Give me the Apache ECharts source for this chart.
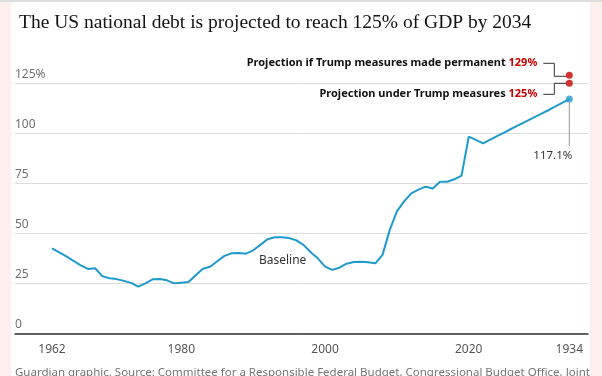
<!DOCTYPE html>
<html>
<head>
<meta charset="utf-8">
<script src="https://cdn.jsdelivr.net/npm/echarts@6/dist/echarts.min.js"></script>
<style>
  html, body { margin: 0; padding: 0; background: #fcefee; }
  #frame { position: absolute; left: 11px; top: 2px; width: 579px; height: 374px; background: #ffffff; }
  #topbar { position: absolute; left: 0; top: 0; width: 602px; height: 2px; background: #dedede; }
  #main { position: absolute; left: 0; top: 0; width: 602px; height: 376px; }
</style>
</head>
<body>
<div id="topbar"></div>
<div id="frame"></div>
<div id="main"></div>
<script>
// debt held by the public, % of GDP (baseline + CBO projection)
var years = [1962,1963,1964,1965,1966,1967,1968,1969,1970,1971,1972,1973,1974,1975,1976,1977,1978,1979,
    1980,1981,1982,1983,1984,1985,1986,1987,1988,1989,1990,1991,1992,1993,1994,1995,1996,1997,1998,1999,
    2000,2001,2002,2003,2004,2005,2006,2007,2008,2009,2010,2011,2012,2013,2014,2015,2016,2017,2018,2019,
    2020,2021,2022,2023,2024,2025,2026,2027,2028,2029,2030,2031,2032,2033,2034];
var debt = [42.5,40.5,38.5,36.2,34,32.2,32.5,28.6,27.5,27.1,26.2,25.2,23.3,25,27,27.2,26.5,25,
    25.3,25.6,29,32.3,33.3,36,38.7,40,40.2,39.8,41.5,44.2,47,48,48,47.6,46.5,44.2,40.5,37.5,
    33.3,31.7,32.8,34.8,35.6,35.8,35.5,35,39.2,51.6,61,66,70,71.8,73.3,72.4,75.8,75.8,77,78.8,
    98.3,96.7,95,96.8,98.7,100.5,102.4,104.2,106,107.8,109.6,111.4,113.3,115.2,117.1];

// end-of-period projections for 2034
var endYear = 2034;
var baselineEnd = 117.1;
var trumpMeasures = 125;
var trumpPermanent = 129;

var xTickYears = [1962, 1980, 2000, 2020, 2034];
var xTickLabels = ['1962', '1980', '2000', '2020', '1934'];
var yTicks = [0, 25, 50, 75, 100, 125];

var lineBlue = '#1f9acd';
var red = '#c70000';
var ink = '#121212';

var chart = echarts.init(document.getElementById('main'));

var seriesData = [];
for (var i = 0; i < years.length; i++) {
    seriesData.push([years[i], debt[i]]);
}

var option = {
    animation: false,
    backgroundColor: 'transparent',
    title: {
        text: 'The US national debt is projected to reach 125% of GDP by 2034',
        left: 14,
        top: 8,
        textStyle: {
            fontFamily: 'Liberation Serif',
            fontSize: 19.5,
            fontWeight: 'normal',
            color: ink
        }
    },
    grid: {
        left: 15,
        right: 14,
        top: 83.3,
        bottom: 42.7
    },
    xAxis: {
        type: 'value',
        min: 1956.85,
        max: 2036.6,
        splitLine: { show: false },
        axisTick: { show: false },
        axisLine: { show: true, lineStyle: { color: '#333333', width: 1.5 } },
        axisLabel: {
            customValues: xTickYears,
            margin: 10,
            fontFamily: 'Noto Sans',
            fontSize: 12,
            color: '#555555',
            formatter: function (v) {
                var k = xTickYears.indexOf(v);
                return k >= 0 ? xTickLabels[k] : '';
            }
        }
    },
    yAxis: {
        type: 'value',
        min: yTicks[0],
        max: yTicks[yTicks.length - 1],
        interval: 25,
        axisLine: { show: false },
        axisTick: { show: false },
        splitLine: { lineStyle: { color: '#dcdcdc', width: 1 } },
        axisLabel: {
            inside: true,
            margin: 0,
            verticalAlign: 'bottom',
            padding: [0, 0, 3, 0],
            fontFamily: 'Noto Sans',
            fontSize: 12,
            color: '#707070',
            formatter: function (v) {
                return v === 125 ? '125%' : String(v);
            }
        }
    },
    series: [
        {
            name: 'Baseline',
            type: 'line',
            data: seriesData,
            showSymbol: false,
            lineStyle: { color: lineBlue, width: 2 },
            itemStyle: { color: lineBlue },
            markPoint: {
                symbol: 'circle',
                symbolSize: 0,
                data: [{
                    coord: [1994.1, 36.6],
                    label: {
                        show: true,
                        position: 'inside',
                        formatter: 'Baseline',
                        fontFamily: 'Noto Sans',
                        fontSize: 12,
                        color: '#333333'
                    }
                }]
            }
        },
        {
            name: 'ends',
            type: 'scatter',
            clip: false,
            symbolSize: 7,
            z: 5,
            data: [
                { value: [endYear, baselineEnd], itemStyle: { color: lineBlue } },
                { value: [endYear, trumpMeasures], itemStyle: { color: red } },
                { value: [endYear, trumpPermanent], itemStyle: { color: red } }
            ]
        }
    ]
};
chart.setOption(option);

// annotations hung off the end points
var pBase = chart.convertToPixel({ xAxisIndex: 0, yAxisIndex: 0 }, [endYear, baselineEnd]);
var p125 = chart.convertToPixel({ xAxisIndex: 0, yAxisIndex: 0 }, [endYear, trumpMeasures]);
var p129 = chart.convertToPixel({ xAxisIndex: 0, yAxisIndex: 0 }, [endYear, trumpPermanent]);

var bx = p129[0] - 15;
var rich = {
    b: { fontFamily: 'Noto Sans', fontWeight: 'bold', fontSize: 11, fill: ink },
    r: { fontFamily: 'Noto Sans', fontWeight: 'bold', fontSize: 11, fill: red }
};

chart.setOption({
    graphic: [
        {
            type: 'polyline',
            shape: { points: [[p129[0] - 26, p129[1] - 12], [bx, p129[1] - 12], [bx, p129[1] + 1], [p129[0] - 3, p129[1] + 1]] },
            style: { stroke: '#333333', lineWidth: 1, fill: null }
        },
        {
            type: 'polyline',
            shape: { points: [[p125[0] - 3, p125[1]], [bx, p125[1]], [bx, p125[1] + 11], [p125[0] - 26, p125[1] + 11]] },
            style: { stroke: '#333333', lineWidth: 1, fill: null }
        },
        {
            type: 'text',
            x: p129[0] - 32,
            y: p129[1] - 12,
            style: {
                text: '{b|Projection if Trump measures made permanent }{r|' + trumpPermanent + '%}',
                rich: rich,
                align: 'right',
                verticalAlign: 'middle'
            }
        },
        {
            type: 'text',
            x: p125[0] - 32,
            y: p125[1] + 11,
            style: {
                text: '{b|Projection under Trump measures }{r|' + trumpMeasures + '%}',
                rich: rich,
                align: 'right',
                verticalAlign: 'middle'
            }
        },
        {
            type: 'line',
            shape: { x1: pBase[0], y1: pBase[1] + 3, x2: pBase[0], y2: pBase[1] + 47 },
            style: { stroke: '#999999', lineWidth: 1 }
        },
        {
            type: 'text',
            x: pBase[0] + 3,
            y: pBase[1] + 57,
            style: {
                text: baselineEnd + '%',
                fontFamily: 'Noto Sans',
                fontSize: 11.5,
                fill: '#333333',
                align: 'right',
                verticalAlign: 'middle'
            }
        },
        {
            type: 'text',
            left: 15,
            top: 367,
            style: {
                text: 'Guardian graphic. Source: Committee for a Responsible Federal Budget, Congressional Budget Office, Joint',
                fontFamily: 'Noto Sans',
                fontSize: 11.5,
                fill: '#767676'
            }
        }
    ]
});
</script>
</body>
</html>
